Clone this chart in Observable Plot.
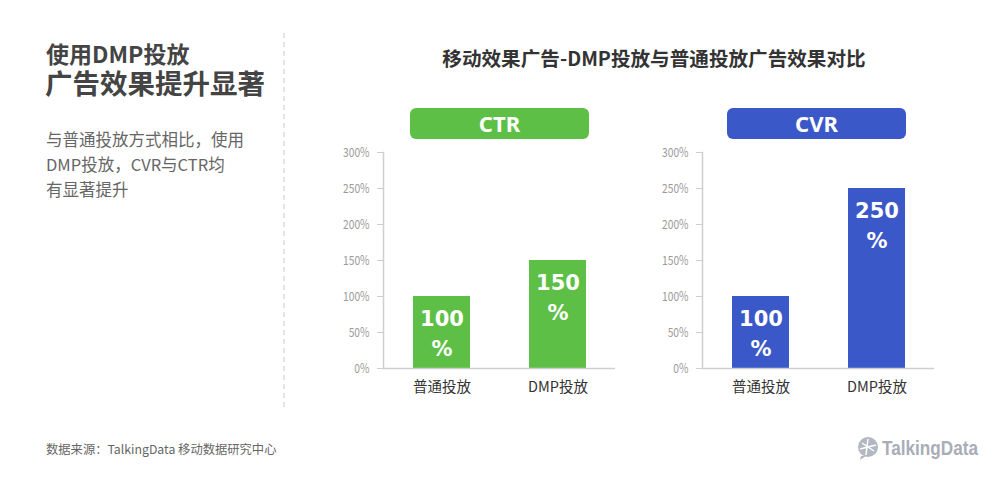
<!DOCTYPE html>
<html>
<head>
<meta charset="utf-8">
<script src="https://cdn.jsdelivr.net/npm/d3@7"></script>
<script src="https://cdn.jsdelivr.net/npm/@observablehq/plot@0.6"></script>
<style>
  html, body { margin: 0; padding: 0; background: #fff; }
  #root { position: relative; width: 1000px; height: 477px; overflow: hidden; background: #fff; font-family: "Noto Sans CJK SC", "Noto Sans", sans-serif; }
  .abs { position: absolute; white-space: nowrap; }
  .pill { position: absolute; height: 31px; border-radius: 6px; color: #fff; font: bold 22px "Noto Sans", "DejaVu Sans", sans-serif; text-align: center; line-height: 31px; }
</style>
</head>
<body>
<div id="root"></div>
<script>
const categories = ["普通投放", "DMP投放"];
const ctrValues = [100, 150];
const cvrValues = [100, 250];
const yTicks = [0, 50, 100, 150, 200, 250, 300];
const panelTitles = ["CTR", "CVR"];
const chartTitle = "移动效果广告-DMP投放与普通投放广告效果对比";
const headline1 = "使用DMP投放";
const headline2 = "广告效果提升显著";
const bodyLines = ["与普通投放方式相比，使用", "DMP投放，CVR与CTR均", "有显著提升"];
const source = "数据来源：TalkingData 移动数据研究中心";
const logoText = "TalkingData";
const green = "#5dbf46";
const blue = "#3b58c8";

const root = document.getElementById("root");
function addText(txt, css) {
  const d = document.createElement("div");
  d.className = "abs";
  d.textContent = txt;
  Object.assign(d.style, css);
  root.appendChild(d);
  return d;
}

// left panel
addText(headline1, {left: "46px", top: "40px", fontSize: "23px", fontWeight: "bold", color: "#444", lineHeight: "26px"});
addText(headline2, {left: "45px", top: "67px", fontSize: "27.5px", fontWeight: "bold", color: "#444", lineHeight: "31px"});
bodyLines.forEach((t, i) => addText(t, {left: "46px", top: (128 + i * 25) + "px", fontSize: "16.5px", color: "#666", lineHeight: "22px"}));
addText(source, {left: "46px", top: "441px", fontSize: "12.3px", color: "#666", lineHeight: "16px"});

// dashed divider
const ns = "http://www.w3.org/2000/svg";
const dash = document.createElementNS(ns, "svg");
dash.setAttribute("width", "4"); dash.setAttribute("height", "380");
Object.assign(dash.style, {position: "absolute", left: "282px", top: "33px"});
dash.innerHTML = '<line x1="2" y1="0" x2="2" y2="378" stroke="#c8c8c8" stroke-width="1" stroke-dasharray="5,4"/>';
root.appendChild(dash);

// chart title
addText(chartTitle, {left: "654px", top: "45px", transform: "translateX(-50%)", fontSize: "19.6px", fontWeight: "bold", color: "#333", lineHeight: "26px"});

// logo
const logo = document.createElement("div");
logo.className = "abs";
Object.assign(logo.style, {left: "856px", top: "436px", width: "130px", height: "26px", color: "#a9adb8"});
logo.innerHTML = '<svg width="24" height="24" style="position:absolute;left:0;top:0"><circle cx="12" cy="11" r="10" fill="#b3b7c2"/><path d="M5 20 L4 24 L10 20 Z" fill="#b3b7c2"/><path d="M6 7 L18 15 M12 3 L10 19 M4 13 L20 9" stroke="#fff" stroke-width="1.5"/></svg>';
const logoSpan = document.createElement("span");
logoSpan.textContent = logoText;
Object.assign(logoSpan.style, {position: "absolute", left: "26px", top: "-1px", font: "bold 21px 'Liberation Sans', 'DejaVu Sans', sans-serif", lineHeight: "26px", transformOrigin: "0 50%", whiteSpace: "nowrap"});
logo.appendChild(logoSpan);
root.appendChild(logo);
const lw = logoSpan.getBoundingClientRect().width;
logoSpan.style.transform = `scaleX(${96 / lw})`;

function panel(values, color, left, title, pillLeft) {
  const data = categories.map((c, i) => ({cat: c, value: values[i]}));
  const pill = document.createElement("div");
  pill.className = "pill";
  pill.textContent = title;
  Object.assign(pill.style, {left: pillLeft + "px", top: "108px", width: "179px", background: color});
  root.appendChild(pill);

  const chart = Plot.plot({
    width: 290,
    height: 270,
    marginTop: 12,
    marginBottom: 42,
    marginLeft: 53,
    marginRight: 5,
    style: {background: "transparent", fontFamily: "Noto Sans CJK SC, sans-serif", overflow: "visible"},
    x: {domain: categories, paddingInner: 0.51, paddingOuter: 0.25, label: null},
    y: {domain: [0, 300], label: null},
    marks: [
      Plot.barY(data, {x: "cat", y: "value", fill: color}),
      Plot.frame({anchor: "left", stroke: "#cfcfcf", strokeWidth: 1.5}),
      Plot.ruleY([0], {stroke: "#cfcfcf", strokeWidth: 1.5}),
      Plot.axisY({ticks: yTicks, tickFormat: d => d + "%", tickSize: 6, tickPadding: 8, stroke: "#cfcfcf", fill: "#9a9a9a", fontSize: 12.5, label: null}),
      Plot.axisX({tickSize: 0, tickPadding: 13, fontSize: 14.5, fill: "#333", label: null}),
      Plot.text(data, {x: "cat", y: "value", text: d => String(d.value), dy: 23, fill: "#fff", fontSize: 21, fontWeight: "bold", fontFamily: "DejaVu Sans, sans-serif"}),
      Plot.text(data, {x: "cat", y: "value", text: () => "%", dy: 53, fill: "#fff", fontSize: 21, fontWeight: "bold", fontFamily: "DejaVu Sans, sans-serif"})
    ]
  });
  Object.assign(chart.style, {position: "absolute", left: left + "px", top: "140px"});
  root.appendChild(chart);
  // condense y tick labels like the reference
  chart.querySelectorAll("[aria-label='y-axis tick label'] text").forEach(t => {
    t.setAttribute("textLength", String(t.getComputedTextLength() * 0.82));
    t.setAttribute("lengthAdjust", "spacingAndGlyphs");
  });
}

panel(ctrValues, green, 330, panelTitles[0], 410);
panel(cvrValues, blue, 649, panelTitles[1], 727);
</script>
</body>
</html>
